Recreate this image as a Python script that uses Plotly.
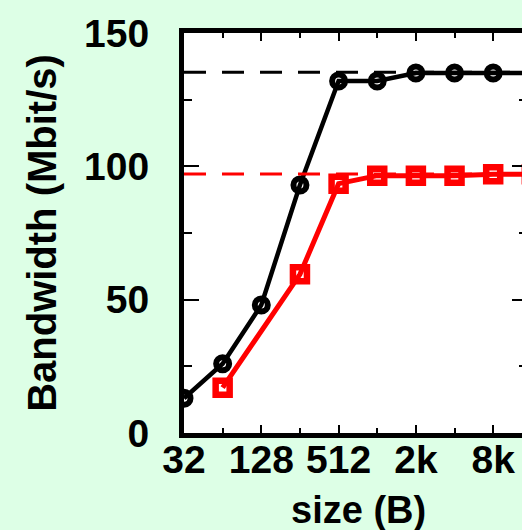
import plotly.graph_objects as go
import math

# Data
sizes_black = [32, 64, 128, 256, 512, 1024, 2048, 4096, 8192, 16384]
bw_black = [13, 26, 48, 93, 132, 132, 135, 135, 135, 135]
sizes_red = [64, 256, 512, 1024, 2048, 4096, 8192, 16384]
bw_red = [17, 59.5, 93.5, 96.5, 96.5, 96.5, 97, 97]
ref_black = 135.3
ref_red = 97.1

x_tickvals = [32, 128, 512, 2048, 8192]
x_ticktext = ["32", "128", "512", "2k", "8k"]
x_minorvals = [64, 256, 1024, 4096, 16384]
y_tickvals = [0, 50, 100, 150]
y_minorvals = [25, 75, 125]

BG = "#ddffe6"
FONT = "Liberation Sans, Arial, sans-serif"

fig = go.Figure()

# reference (dashed) levels
fig.add_trace(go.Scatter(x=[sizes_black[0], sizes_black[-1]], y=[ref_black, ref_black],
                         mode="lines", line=dict(color="black", width=3, dash="22px,16px"),
                         yaxis="y2", showlegend=False, hoverinfo="skip"))
fig.add_trace(go.Scatter(x=[sizes_black[0], sizes_black[-1]], y=[ref_red, ref_red],
                         mode="lines", line=dict(color="#ff0000", width=3, dash="22px,16px"),
                         yaxis="y2", showlegend=False, hoverinfo="skip"))

fig.add_trace(go.Scatter(x=sizes_black, y=bw_black, mode="lines+markers",
                         line=dict(color="black", width=4.5),
                         marker=dict(symbol="circle-open", size=13, color="black",
                                     line=dict(width=6, color="black")),
                         cliponaxis=True, showlegend=False))
fig.add_trace(go.Scatter(x=sizes_red, y=bw_red, mode="lines+markers",
                         line=dict(color="#ff0000", width=5),
                         marker=dict(symbol="square-open", size=14, color="#ff0000",
                                     line=dict(width=6.5, color="#ff0000")),
                         cliponaxis=True, showlegend=False))

x_end = 2 ** (13 + 29 / 38.9)

fig.update_layout(
    width=522, height=530,
    margin=dict(l=184, r=0, t=33, b=97, pad=0),
    paper_bgcolor=BG, plot_bgcolor="white",
    font=dict(family=FONT, color="black"),
    xaxis=dict(type="log", range=[math.log10(32), math.log10(x_end)],
               tickmode="array", tickvals=x_tickvals, ticktext=x_ticktext,
               ticks="inside", ticklen=8, tickwidth=2, tickcolor="black",
               minor=dict(tickmode="array", tickvals=x_minorvals, ticks="inside",
                          ticklen=5, tickwidth=2, tickcolor="black"),
               showline=True, linewidth=5, linecolor="black", mirror="ticks",
               showgrid=False, zeroline=False,
               tickfont=dict(size=39, family=FONT, weight="bold"),
               ticklabelstandoff=-12),
    yaxis=dict(range=[0, 150], tickmode="array", tickvals=y_tickvals,
               ticks="inside", ticklen=15, tickwidth=2, tickcolor="black",
               minor=dict(tickmode="array", tickvals=y_minorvals, ticks="inside",
                          ticklen=8, tickwidth=2, tickcolor="black"),
               showline=True, linewidth=5, linecolor="black", mirror=False,
               showgrid=False, zeroline=False,
               tickfont=dict(size=39, family=FONT, weight="bold"),
               ticklabelstandoff=22,
               title=dict(text="Bandwidth (Mbit/s)",
                          font=dict(size=40, family=FONT, weight="bold"), standoff=17)),
    yaxis2=dict(range=[0, 150], overlaying="y", side="right",
                tickmode="array", tickvals=y_tickvals, showticklabels=False,
                ticks="inside", ticklen=10, tickwidth=2, tickcolor="black",
                minor=dict(tickmode="array", tickvals=y_minorvals, ticks="inside",
                           ticklen=3, tickwidth=2, tickcolor="black"),
                showline=False, showgrid=False, zeroline=False),
    annotations=[dict(text="size (B)", xref="paper", yref="paper",
                      x=(358 - 184) / 338, y=0, xanchor="center", yanchor="middle",
                      yshift=-77, showarrow=False,
                      font=dict(size=38, family=FONT, weight="bold", color="black"))],
)

fig.write_html("out.html")
